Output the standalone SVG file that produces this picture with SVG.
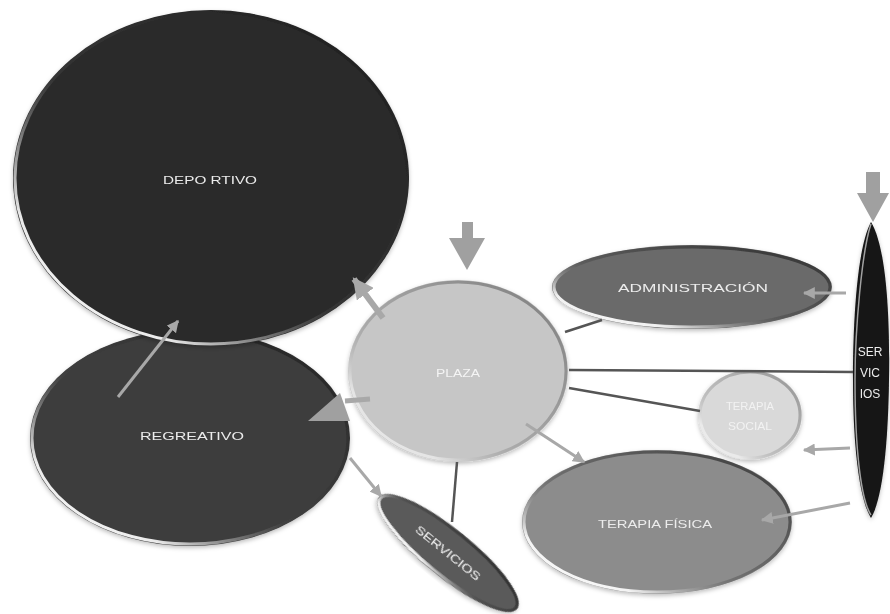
<svg xmlns="http://www.w3.org/2000/svg" width="890" height="614" viewBox="0 0 890 614">
<defs>
<style>
.lbl{font-family:"Liberation Sans","DejaVu Sans",sans-serif;font-size:11px;text-anchor:middle;fill:#ececec}
.dk{stroke:#555;stroke-width:2.5;fill:none}
.lt{stroke:#a8a8a8;stroke-width:3;fill:none}
.rim{fill:none;stroke:url(#rim);stroke-width:3}
.arr{fill:#a0a0a0}
</style>
<linearGradient id="rim" x1="1" y1="0" x2="0" y2="1">
<stop offset="0" stop-color="#111" stop-opacity="0.7"/>
<stop offset="0.55" stop-color="#444" stop-opacity="0.4"/>
<stop offset="0.8" stop-color="#fff" stop-opacity="0.9"/>
<stop offset="1" stop-color="#fff"/>
</linearGradient>
<filter id="sh" x="-10%" y="-10%" width="120%" height="120%">
<feDropShadow dx="0" dy="2" stdDeviation="2" flood-color="#000" flood-opacity="0.25"/>
</filter>
<marker id="ah" viewBox="0 0 10 10" refX="9" refY="5" markerWidth="4" markerHeight="4" orient="auto" markerUnits="strokeWidth">
<path d="M0,0 L10,5 L0,10 Z" fill="#a8a8a8"/>
</marker>
<marker id="ahb" viewBox="0 0 10 10" refX="9" refY="5" markerWidth="3.5" markerHeight="3.5" orient="auto" markerUnits="strokeWidth">
<path d="M0,0 L10,5 L0,10 Z" fill="#a8a8a8"/>
</marker>
</defs>
<rect width="890" height="614" fill="#fff"/>

<g id="regreativo" filter="url(#sh)">
<ellipse cx="190" cy="438" rx="160" ry="108" fill="#3c3c3c"/>
<ellipse cx="190" cy="438" rx="158" ry="106" class="rim"/>
<text class="lbl" x="192" y="440" textLength="104" lengthAdjust="spacingAndGlyphs">REGREATIVO</text>
</g>

<g id="deportivo" filter="url(#sh)">
<ellipse cx="211" cy="178" rx="198" ry="168" fill="#2a2a2a"/>
<ellipse cx="211" cy="178" rx="196" ry="166" class="rim"/>
<text class="lbl" x="210" y="184" textLength="94" lengthAdjust="spacingAndGlyphs">DEPO RTIVO</text>
</g>

<g id="plaza" filter="url(#sh)">
<ellipse cx="458" cy="371" rx="110" ry="91" fill="#c6c6c6"/>
<ellipse cx="458" cy="371" rx="108" ry="89" class="rim" stroke-opacity="0.6"/>
<text class="lbl" x="458" y="377" fill="#f4f4f4" style="fill:#f4f4f4" textLength="44" lengthAdjust="spacingAndGlyphs">PLAZA</text>
</g>

<g id="administracion" filter="url(#sh)">
<ellipse cx="692" cy="287" rx="140" ry="42" fill="#6a6a6a"/>
<ellipse cx="692" cy="287" rx="138" ry="40" class="rim"/>
<text class="lbl" x="693" y="292" textLength="150" lengthAdjust="spacingAndGlyphs">ADMINISTRACIÓN</text>
</g>

<g id="terapia-social" filter="url(#sh)">
<ellipse cx="750" cy="415" rx="52" ry="45" fill="#d9d9d9"/>
<ellipse cx="750" cy="415" rx="50" ry="43" class="rim" stroke-opacity="0.5"/>
<text class="lbl" x="750" y="410" style="fill:#f2f2f2" textLength="48" lengthAdjust="spacingAndGlyphs">TERAPIA</text>
<text class="lbl" x="750" y="430" style="fill:#f2f2f2" textLength="44" lengthAdjust="spacingAndGlyphs">SOCIAL</text>
</g>

<g id="terapia-fisica" filter="url(#sh)">
<ellipse cx="657" cy="522" rx="135" ry="72" fill="#8c8c8c"/>
<ellipse cx="657" cy="522" rx="133" ry="70" class="rim"/>
<text class="lbl" x="655" y="528" textLength="114" lengthAdjust="spacingAndGlyphs">TERAPIA FÍSICA</text>
</g>

<g id="servicios-small" filter="url(#sh)" transform="translate(448,553) rotate(39)">
<ellipse cx="0" cy="0" rx="89" ry="24" fill="#5a5a5a"/>
<ellipse cx="0" cy="0" rx="87" ry="22" class="rim"/>
<text class="lbl" x="0" y="4" textLength="80" lengthAdjust="spacingAndGlyphs">SERVICIOS</text>
</g>

<g id="servicios" filter="url(#sh)">
<path d="M871,222 C888,250 890,330 889,380 C888,450 882,500 871,518 C860,500 853,450 853,380 C853,330 856,250 871,222 Z" fill="#141414"/>
<path d="M871,224 C862,250 855,330 855,380 C855,450 861,500 871,515" fill="none" stroke="#fff" stroke-opacity="0.6" stroke-width="1.5"/>
<text class="lbl" x="870" y="356" style="font-size:12px">SER</text>
<text class="lbl" x="870" y="377" style="font-size:12px">VIC</text>
<text class="lbl" x="870" y="398" style="font-size:12px">IOS</text>
</g>

<g id="connectors">
<line class="dk" x1="565" y1="332" x2="602" y2="320"/>
<line class="dk" x1="569" y1="370" x2="853" y2="372"/>
<line class="dk" x1="569" y1="388" x2="700" y2="411"/>
<line class="dk" x1="457" y1="462" x2="452" y2="522"/>
<line class="lt" x1="118" y1="397" x2="178" y2="321" marker-end="url(#ah)"/>
<line x1="383" y1="318" x2="354" y2="279" stroke="#a8a8a8" stroke-width="6" marker-end="url(#ahb)"/>
<line x1="370" y1="399" x2="345" y2="401" stroke="#a8a8a8" stroke-width="5"/>
<polygon class="arr" points="308,421 340,393 350,421"/>
<line class="lt" x1="350" y1="458" x2="381" y2="496" marker-end="url(#ah)"/>
<line class="lt" x1="526" y1="424" x2="584" y2="462" marker-end="url(#ah)"/>
<line class="lt" x1="846" y1="293" x2="804" y2="293" marker-end="url(#ah)"/>
<line class="lt" x1="850" y1="448" x2="804" y2="450" marker-end="url(#ah)"/>
<line class="lt" x1="850" y1="503" x2="762" y2="520" marker-end="url(#ah)"/>
<polygon class="arr" points="462,222 473,222 473,238 485,238 467,270 449,238 462,238"/>
<polygon class="arr" points="866,172 880,172 880,193 889,193 873,222 857,193 866,193"/>
</g>
</svg>
